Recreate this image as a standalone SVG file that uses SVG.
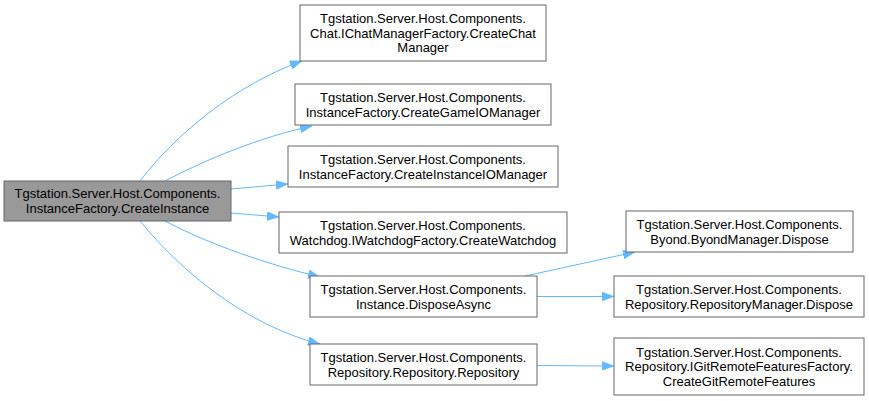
<svg xmlns="http://www.w3.org/2000/svg" width="869" height="401" viewBox="0 0 869 401">
<defs>
<style>
.n rect{fill:#ffffff;stroke:#666666;stroke-width:1}
.n.src rect{fill:#999999}
.n text{font-family:"Liberation Sans",Arial,Helvetica,sans-serif;font-size:13px;fill:#000000;text-anchor:middle}
.e path{fill:none;stroke:#63b8ff;stroke-width:1;marker-end:url(#ah)}
</style>
<marker id="ah" markerUnits="userSpaceOnUse" markerWidth="12" markerHeight="9" refX="12" refY="4.5" orient="auto">
<path d="M0,0 L12,4.5 L0,9 Z" fill="#63b8ff" stroke="#63b8ff" stroke-width="0.5"/>
</marker>
</defs>
<rect width="869" height="401" fill="#ffffff"/>
<g id="edges" class="e">
<path d="M140,181 C175,135 235,85 302,61"/>
<path d="M165,181 C205,160 260,137 312,126"/>
<path d="M231,189 L288,184"/>
<path d="M231,213 L279,217"/>
<path d="M165,221 C210,245 270,265 320,277"/>
<path d="M140,221 C180,270 245,325 320,344"/>
<path d="M525,276 L635,252"/>
<path d="M537,296.5 L614,296.5"/>
<path d="M537,365.5 L614,366"/>
</g>
<g id="n_createinstance" class="n src">
<rect x="4" y="181" width="227" height="40"/>
<text x="117.5" y="198">Tgstation.Server.Host.Components.</text>
<text x="117.5" y="212.5">InstanceFactory.CreateInstance</text>
</g>
<g id="n_chat" class="n">
<rect x="300" y="5" width="246" height="56"/>
<text x="423" y="23.2">Tgstation.Server.Host.Components.</text>
<text x="423" y="37.7">Chat.IChatManagerFactory.CreateChat</text>
<text x="423" y="52.2">Manager</text>
</g>
<g id="n_gameio" class="n">
<rect x="295" y="84" width="256" height="41"/>
<text x="423" y="102">Tgstation.Server.Host.Components.</text>
<text x="423" y="116.5">InstanceFactory.CreateGameIOManager</text>
</g>
<g id="n_instanceio" class="n">
<rect x="288" y="146" width="270" height="41"/>
<text x="423" y="164">Tgstation.Server.Host.Components.</text>
<text x="423" y="178.5">InstanceFactory.CreateInstanceIOManager</text>
</g>
<g id="n_watchdog" class="n">
<rect x="279" y="212" width="288" height="41"/>
<text x="423" y="230">Tgstation.Server.Host.Components.</text>
<text x="423" y="244.5">Watchdog.IWatchdogFactory.CreateWatchdog</text>
</g>
<g id="n_disposeasync" class="n">
<rect x="310" y="276" width="227" height="41"/>
<text x="423.5" y="294">Tgstation.Server.Host.Components.</text>
<text x="423.5" y="308.5">Instance.DisposeAsync</text>
</g>
<g id="n_repository" class="n">
<rect x="310" y="344" width="227" height="41"/>
<text x="423.5" y="362">Tgstation.Server.Host.Components.</text>
<text x="423.5" y="376.5">Repository.Repository.Repository</text>
</g>
<g id="n_byond" class="n">
<rect x="626" y="211" width="227" height="41"/>
<text x="739.5" y="229">Tgstation.Server.Host.Components.</text>
<text x="739.5" y="243.5">Byond.ByondManager.Dispose</text>
</g>
<g id="n_repomanager" class="n">
<rect x="614" y="276" width="250" height="41"/>
<text x="739" y="294">Tgstation.Server.Host.Components.</text>
<text x="739" y="308.5">Repository.RepositoryManager.Dispose</text>
</g>
<g id="n_igit" class="n">
<rect x="614" y="338" width="250" height="57"/>
<text x="739" y="356.7">Tgstation.Server.Host.Components.</text>
<text x="739" y="371.2">Repository.IGitRemoteFeaturesFactory.</text>
<text x="739" y="385.7">CreateGitRemoteFeatures</text>
</g>
</svg>
